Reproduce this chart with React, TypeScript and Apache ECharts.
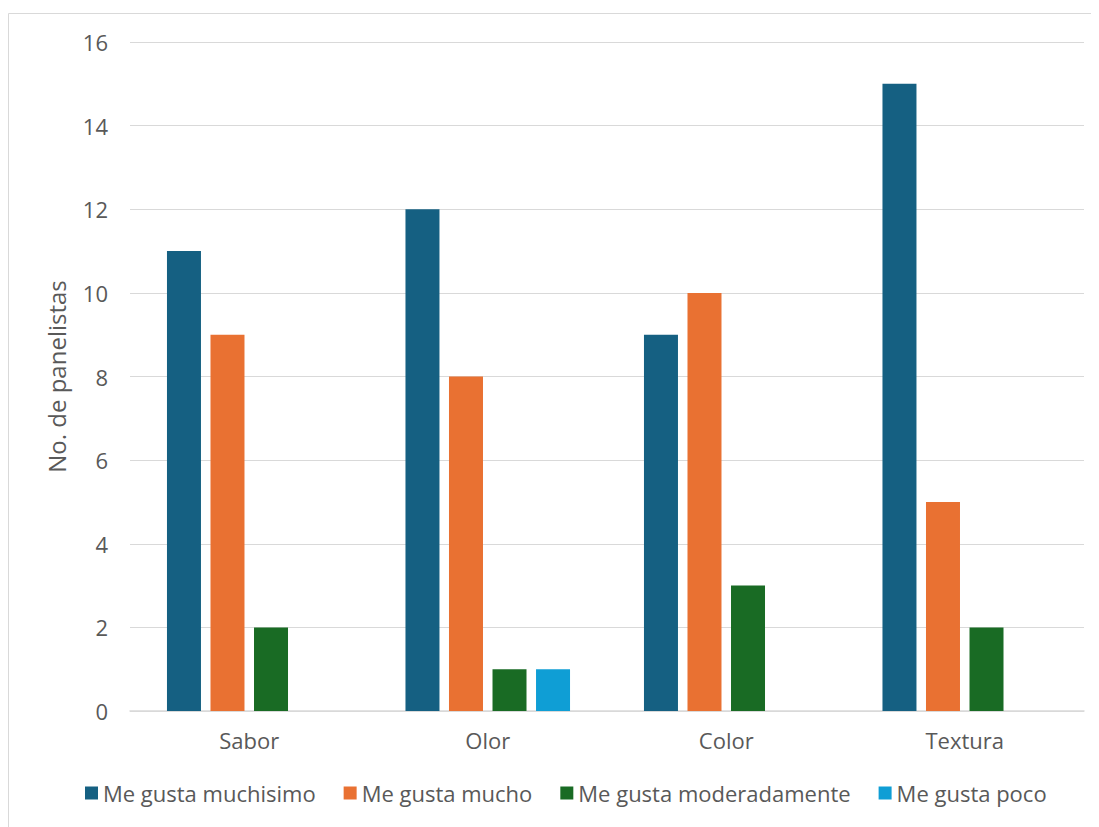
import React, { useEffect, useRef } from "react";
import * as echarts from "echarts";

const categories = ["Sabor", "Olor", "Color", "Textura"];
const seriesNames = ["Me gusta muchisimo", "Me gusta mucho", "Me gusta moderadamente", "Me gusta poco"];
const muchisimo = [11, 12, 9, 15];
const mucho = [9, 8, 10, 5];
const moderadamente = [2, 1, 3, 2];
const poco = [null, 1, null, null];
const colors = ["#156082", "#E97132", "#196B24", "#0F9ED5"];

export default function App() {
  const ref = useRef<HTMLDivElement>(null);
  useEffect(() => {
    const chart = echarts.init(ref.current!, null, { renderer: "svg" });
    const font = "Open Sans";
    const values = [muchisimo, mucho, moderadamente, poco];
    chart.setOption({
      animation: false,
      textStyle: { fontFamily: font },
      graphic: [
        {
          type: "rect",
          shape: { x: 0.5, y: 5.5, width: 1200, height: 1000 },
          style: { fill: "none", stroke: "#d9d9d9", lineWidth: 1 },
          silent: true,
        },
      ],
      grid: { left: 122, right: 15, top: 34, bottom: 116 },
      legend: {
        top: 769,
        left: 72,
        itemWidth: 13,
        itemHeight: 13,
        itemGap: 28,
        icon: "rect",
        textStyle: { color: "#595959", fontSize: 22, fontFamily: font },
        data: seriesNames,
      },
      xAxis: {
        type: "category",
        data: categories,
        axisLine: { lineStyle: { color: "#d9d9d9", width: 1.5 } },
        axisTick: { show: false },
        axisLabel: { color: "#595959", fontSize: 22, margin: 18, fontFamily: font },
      },
      yAxis: {
        type: "value",
        min: 0,
        max: 16,
        interval: 2,
        name: "No. de panelistas",
        nameLocation: "middle",
        nameGap: 62,
        nameTextStyle: { color: "#595959", fontSize: 24, fontFamily: font },
        axisLine: { show: false },
        axisTick: { show: false },
        axisLabel: { color: "#595959", fontSize: 22, margin: 22, fontFamily: font },
        splitLine: { lineStyle: { color: "#d9d9d9", width: 1 } },
      },
      series: seriesNames.map((name, i) => ({
        name,
        type: "bar",
        data: values[i],
        barWidth: 34,
        barGap: "28%",
        itemStyle: { color: colors[i] },
      })),
    });
    return () => chart.dispose();
  }, []);
  return <div ref={ref} style={{ width: 1091, height: 819 }} />;
}
